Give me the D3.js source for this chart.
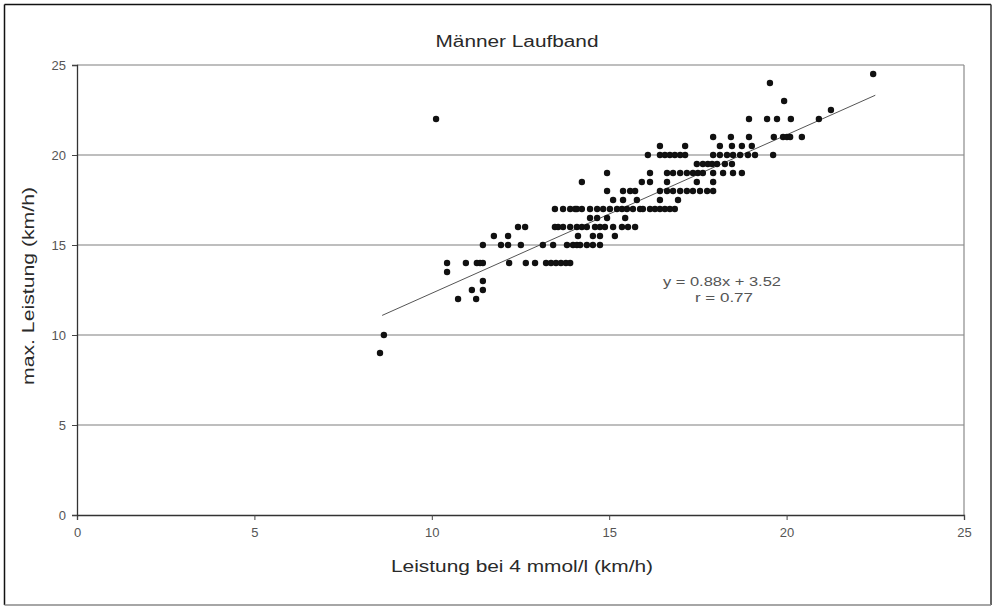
<!DOCTYPE html>
<html>
<head>
<meta charset="utf-8">
<script src="https://cdn.jsdelivr.net/npm/d3@7"></script>
<style>
  html, body { margin: 0; padding: 0; background: #fff; }
  svg { display: block; }
  text { font-family: "Liberation Sans", Arial, sans-serif; }
</style>
</head>
<body>
<svg id="chart" width="996" height="608"></svg>
<script>
// ---------- data ----------
const title = "Männer Laufband";
const xLabel = "Leistung bei 4 mmol/l (km/h)";
const yLabel = "max. Leistung (km/h)";
const xTicks = [0, 5, 10, 15, 20, 25];
const yTicks = [0, 5, 10, 15, 20, 25];
const slope = 0.88;
const intercept = 3.52;
const rValue = 0.77;
const fitRange = [8.6, 22.5];

// max. Leistung levels (km/h) and the Leistung bei 4 mmol/l values found on each level
const yLevels = [9, 10, 12, 12.5, 13, 13.5, 14, 15, 15.5, 16, 16.5, 17, 17.5, 18, 18.5, 19, 19.5, 20, 20.5, 21, 22, 22.5, 23, 24, 24.5];
const x9 = [8.54];
const x10 = [8.65];
const x12 = [10.74, 11.25];
const x12_5 = [11.13, 11.44];
const x13 = [11.44];
const x13_5 = [10.43];
const x14 = [10.43, 10.96, 11.27, 11.36, 11.44, 12.18, 12.65, 12.91, 13.22, 13.36, 13.50, 13.64, 13.78, 13.90];
const x15 = [11.44, 11.95, 12.15, 12.51, 13.13, 13.42, 13.81, 13.98, 14.09, 14.18, 14.37, 14.54, 14.74];
const x15_5 = [11.75, 12.15, 14.12, 14.54, 14.74, 15.16];
const x16 = [12.43, 12.63, 13.47, 13.56, 13.70, 13.90, 14.09, 14.23, 14.37, 14.60, 14.74, 14.88, 15.11, 15.36, 15.53, 15.73];
const x16_5 = [14.46, 14.66, 14.94, 15.45];
const x17 = [13.47, 13.70, 13.90, 14.04, 14.09, 14.23, 14.46, 14.66, 14.83, 15.02, 15.22, 15.36, 15.50, 15.67, 15.87, 15.95, 16.15, 16.29, 16.43, 16.57, 16.71, 16.85];
const x17_5 = [15.11, 15.39, 15.78, 16.43, 16.94];
const x18 = [14.94, 15.39, 15.59, 15.73, 16.43, 16.63, 16.80, 17.00, 17.19, 17.36, 17.56, 17.76, 17.93];
const x18_5 = [14.23, 15.92, 16.15, 16.63, 17.47, 17.93];
const x19 = [14.94, 16.15, 16.63, 16.80, 17.00, 17.19, 17.36, 17.50, 17.64, 17.93, 18.21, 18.49, 18.74];
const x19_5 = [17.47, 17.64, 17.78, 17.90, 18.04, 18.26, 18.46];
const x20 = [16.09, 16.43, 16.57, 16.71, 16.85, 17.00, 17.14, 17.93, 18.12, 18.32, 18.49, 18.69, 18.91, 19.11, 19.62];
const x20_5 = [16.43, 17.14, 18.12, 18.46, 18.74, 19.02];
const x21 = [17.93, 18.43, 18.94, 19.64, 19.90, 20.01, 20.10, 20.43];
const x22 = [10.12, 18.94, 19.45, 19.73, 20.12, 20.91];
const x22_5 = [21.25];
const x23 = [19.93];
const x24 = [19.53];
const x24_5 = [22.44];
const xByLevel = [x9, x10, x12, x12_5, x13, x13_5, x14, x15, x15_5, x16, x16_5, x17, x17_5, x18, x18_5, x19, x19_5, x20, x20_5, x21, x22, x22_5, x23, x24, x24_5];

const points = [];
yLevels.forEach((yv, i) => xByLevel[i].forEach(xv => points.push({x: xv, y: yv})));

// ---------- layout ----------
const svg = d3.select("#chart");
const mLeft = 77, mRight = 964, mTop = 65, mBottom = 515;
const x = d3.scaleLinear().domain([0, 25]).range([mLeft, mRight]);
const y = d3.scaleLinear().domain([0, 25]).range([mBottom, mTop]);

// outer frame
svg.append("line").attr("x1", 4.5).attr("x2", 991).attr("y1", 4.5).attr("y2", 4.5).attr("stroke", "#111").attr("stroke-width", 1.5);
svg.append("line").attr("x1", 4.5).attr("x2", 4.5).attr("y1", 4.5).attr("y2", 605).attr("stroke", "#111").attr("stroke-width", 1.5);
svg.append("line").attr("x1", 991).attr("x2", 991).attr("y1", 4.5).attr("y2", 605).attr("stroke", "#333").attr("stroke-width", 1.5);
svg.append("line").attr("x1", 4.5).attr("x2", 991).attr("y1", 605).attr("y2", 605).attr("stroke", "#888").attr("stroke-width", 1.5);

// gridlines
svg.append("g").selectAll("line").data(yTicks.filter(d => d > 0)).join("line")
  .attr("x1", mLeft).attr("x2", mRight)
  .attr("y1", d => y(d)).attr("y2", d => y(d))
  .attr("stroke", "#a8a8a8").attr("stroke-width", 1.6);
// right border of plot
svg.append("line").attr("x1", mRight).attr("x2", mRight).attr("y1", mTop).attr("y2", mBottom)
  .attr("stroke", "#8a8a8a").attr("stroke-width", 1.2);

// axes
const xAxis = d3.axisBottom(x).tickValues(xTicks).tickSize(5).tickPadding(6).tickFormat(d3.format("d"));
const yAxis = d3.axisLeft(y).tickValues(yTicks).tickSize(5).tickPadding(6).tickFormat(d3.format("d"));
const gx = svg.append("g").attr("transform", `translate(0,${mBottom})`).call(xAxis);
const gy = svg.append("g").attr("transform", `translate(${mLeft},0)`).call(yAxis);
[gx, gy].forEach(g => {
  g.select(".domain").attr("stroke", "#333").attr("stroke-width", 1.3);
  g.selectAll(".tick line").attr("stroke", "#444");
  g.selectAll(".tick text").attr("fill", "#555").attr("font-size", 13)
    .attr("font-family", "Liberation Sans, Arial, sans-serif");
});
gx.selectAll(".tick text").attr("dy", "0.85em");

// regression line
svg.append("line")
  .attr("x1", x(fitRange[0])).attr("y1", y(slope * fitRange[0] + intercept))
  .attr("x2", x(fitRange[1])).attr("y2", y(slope * fitRange[1] + intercept))
  .attr("stroke", "#555").attr("stroke-width", 1);

// points
svg.append("g").selectAll("circle").data(points).join("circle")
  .attr("cx", d => x(d.x)).attr("cy", d => y(d.y)).attr("r", 3.2)
  .attr("fill", "#111");

// texts
svg.append("text").attr("x", 517).attr("y", 47).attr("text-anchor", "middle")
  .attr("font-size", 16).attr("fill", "#2a2a2a")
  .attr("textLength", 163).attr("lengthAdjust", "spacingAndGlyphs").text(title);

svg.append("text").attr("x", 522).attr("y", 572).attr("text-anchor", "middle")
  .attr("font-size", 16).attr("fill", "#2a2a2a")
  .attr("textLength", 262).attr("lengthAdjust", "spacingAndGlyphs").text(xLabel);

svg.append("text").attr("transform", "translate(34,286) rotate(-90)").attr("text-anchor", "middle")
  .attr("font-size", 16).attr("fill", "#2a2a2a")
  .attr("textLength", 198).attr("lengthAdjust", "spacingAndGlyphs").text(yLabel);

svg.append("text").attr("x", 722).attr("y", 286).attr("text-anchor", "middle")
  .attr("font-size", 12.5).attr("fill", "#555")
  .attr("textLength", 118).attr("lengthAdjust", "spacingAndGlyphs")
  .text(`y = ${slope.toFixed(2)}x + ${intercept.toFixed(2)}`);
svg.append("text").attr("x", 724).attr("y", 302).attr("text-anchor", "middle")
  .attr("font-size", 12.5).attr("fill", "#555")
  .attr("textLength", 58).attr("lengthAdjust", "spacingAndGlyphs")
  .text(`r = ${rValue.toFixed(2)}`);
</script>
</body>
</html>
